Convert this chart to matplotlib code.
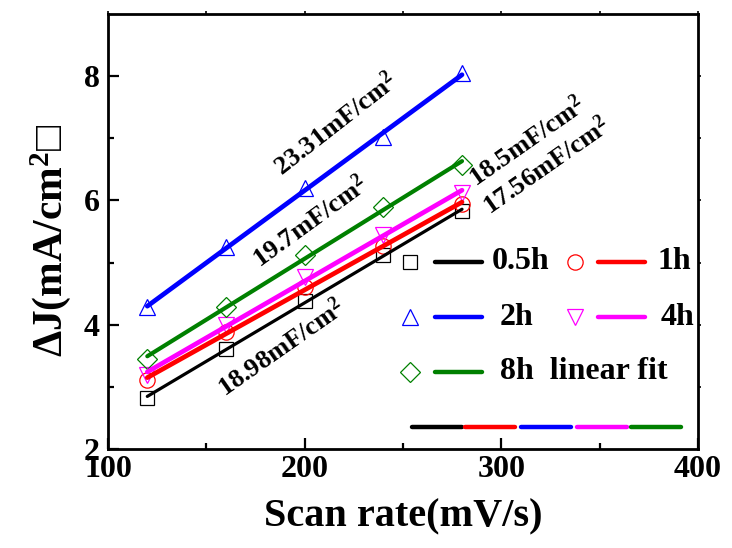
import numpy as np
import matplotlib
matplotlib.use("Agg")
import matplotlib.pyplot as plt
from matplotlib.lines import Line2D

plt.rcParams['font.family'] = ['Liberation Serif', 'DejaVu Serif']
plt.rcParams['font.weight'] = 'bold'
plt.rcParams['mathtext.fontset'] = 'custom'
plt.rcParams['mathtext.rm'] = 'Liberation Serif:bold'
plt.rcParams['mathtext.it'] = 'Liberation Serif:bold'
plt.rcParams['mathtext.bf'] = 'Liberation Serif:bold'

# Scan rates (mV/s) and current density differences (mA/cm^2)
scan_rate = [120, 160, 200, 240, 280]
dj_05h = [2.82, 3.61, 4.38, 5.12, 5.83]
dj_1h = [3.11, 3.88, 4.60, 5.26, 5.95]
dj_2h = [4.28, 5.25, 6.20, 7.02, 8.05]
dj_4h = [3.19, 3.99, 4.77, 5.44, 6.12]
dj_8h = [3.45, 4.28, 5.12, 5.89, 6.57]

series_labels = ['0.5h', '1h', '2h', '4h', '8h']
colors = ['black', 'red', 'blue', 'magenta', 'green']
markers = ['s', 'o', '^', 'v', 'D']
marker_sizes = [10.5, 11, 12, 12, 10]
fit_widths = [2.3, 3.4, 3.4, 3.4, 3.0]
series = [dj_05h, dj_1h, dj_2h, dj_4h, dj_8h]

# Capacitance annotations: (text, x, y, rotation)
cap_labels = ['23.31mF/cm$^2$', '19.7mF/cm$^2$', '18.98mF/cm$^2$',
              '18.5mF/cm$^2$', '17.56mF/cm$^2$']
cap_x = [216, 203, 188, 313, 323]
cap_y = [7.22, 5.66, 3.62, 6.94, 6.55]
cap_rot = [38, 36, 35, 35, 35]

fig = plt.figure(figsize=(7.32, 5.48), dpi=100)
ax = fig.add_axes([0.1475, 0.1807, 0.8061, 0.7938])

x = np.array(scan_rate, dtype=float)
for ys, c, m, ms, lw in zip(series, colors, markers, marker_sizes, fit_widths):
    ax.plot(x, ys, linestyle='none', marker=m, ms=ms, mfc='none',
            mec=c, mew=0.9, zorder=2)
    k, b = np.polyfit(x, ys, 1)
    ax.plot(x, k * x + b, color=c, lw=lw, solid_capstyle='round', zorder=3)

for t, tx, ty, r in zip(cap_labels, cap_x, cap_y, cap_rot):
    ax.text(tx, ty, t, rotation=r, rotation_mode='anchor', ha='center',
            va='center', fontsize=19, fontweight='bold')

ax.set_xlim(100, 400)
ax.set_ylim(2, 9)
ax.set_xticks([100, 200, 300, 400])
ax.set_xticks([150, 250, 350], minor=True)
ax.set_yticks([2, 4, 6, 8])
ax.set_yticks([3, 5, 7], minor=True)
ax.tick_params(axis='both', which='major', direction='in', length=8,
               width=1.6, labelsize=23)
ax.tick_params(axis='both', which='minor', direction='in', length=4,
               width=1.6)
ax.tick_params(axis='x', pad=4)
ax.tick_params(axis='y', pad=6)
for lab in ax.get_xticklabels() + ax.get_yticklabels():
    lab.set_fontweight('bold')
for sp in ax.spines.values():
    sp.set_linewidth(2.0)

# small outer ticks along the top and right frame
sec_x = ax.secondary_xaxis('top')
sec_x.set_xticks([100, 150, 200, 250, 300, 350, 400])
sec_x.tick_params(direction='out', length=2, width=1.2, labeltop=False)
sec_x.spines['top'].set_visible(False)
sec_y = ax.secondary_yaxis('right')
sec_y.set_yticks([3, 4, 5, 6, 7, 8])
sec_y.tick_params(direction='out', length=2, width=1.2, labelright=False)
sec_y.spines['right'].set_visible(False)

ax.set_xlabel('Scan rate(mV/s)', fontsize=29, fontweight='bold', labelpad=11)
ax.set_ylabel('ΔJ(mA/cm$^2$□', fontsize=30, fontweight='bold')
ax.yaxis.set_label_coords(-0.06, 0.48)

# hand-built legend
row_y = [0.430, 0.430, 0.303, 0.303, 0.177]
mark_x = [0.512, 0.792, 0.512, 0.792, 0.512]
line_x0 = [0.554, 0.831, 0.554, 0.831, 0.554]
line_x1 = [0.634, 0.910, 0.634, 0.910, 0.634]
text_x = [0.651, 0.931, 0.664, 0.936, 0.664]
legend_texts = ['0.5h', '1h', '2h', '4h', '8h  linear fit']
for i in range(5):
    ax.add_line(Line2D([mark_x[i]], [row_y[i]], marker=markers[i],
                       ms=marker_sizes[i], mfc='none', mec=colors[i],
                       mew=0.9, transform=ax.transAxes))
    ax.add_line(Line2D([line_x0[i], line_x1[i]], [row_y[i], row_y[i]],
                       color=colors[i], lw=3.2, solid_capstyle='round',
                       transform=ax.transAxes))
    ax.text(text_x[i], row_y[i], legend_texts[i], transform=ax.transAxes,
            ha='left', va='center', fontsize=23, fontweight='bold')

seg_x0 = [0.515, 0.605, 0.700, 0.795, 0.886]
seg_x1 = [0.600, 0.690, 0.785, 0.880, 0.971]
for x0, x1, c in zip(seg_x0, seg_x1, colors):
    ax.add_line(Line2D([x0, x1], [0.051, 0.051], color=c, lw=3.2,
                       solid_capstyle='round', transform=ax.transAxes))

fig.savefig('out.png', dpi=100)
